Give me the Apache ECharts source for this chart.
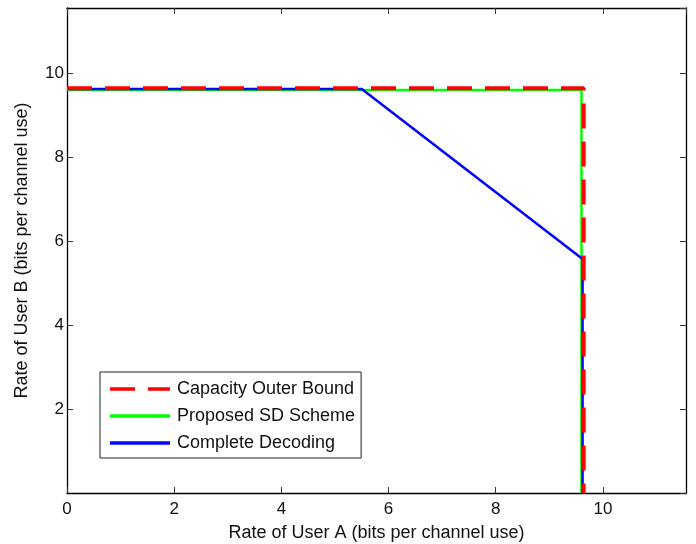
<!DOCTYPE html>
<html>
<head>
<meta charset="utf-8">
<script src="https://cdn.jsdelivr.net/npm/echarts@6/dist/echarts.min.js"></script>
<style>html,body{margin:0;padding:0;background:#fff}#c{width:696px;height:544px}</style>
</head>
<body>
<div id="c"></div>
<script>
const seriesNames = ['Capacity Outer Bound', 'Proposed SD Scheme', 'Complete Decoding'];
const capacityX = [0, 9.64, 9.64];
const capacityY = [9.64, 9.64, 0];
const proposedX = [0, 9.6, 9.6];
const proposedY = [9.6, 9.6, 0];
const completeX = [0, 5.5, 9.62, 9.62];
const completeY = [9.62, 9.62, 5.57, 0];
const tickValues = [0, 2, 4, 6, 8, 10];
const axisMax = 11.55;

const zip = (xs, ys) => xs.map((x, i) => [x, ys[i]]);
const font = "'Liberation Sans', Arial, sans-serif";
const chart = echarts.init(document.getElementById('c'));

function axis(pos, showLabels, name) {
  const a = {
    type: 'value', min: 0, max: axisMax, interval: 2, position: pos,
    axisLine: { show: true, onZero: false, lineStyle: { color: '#000', width: 1.3 } },
    axisTick: { show: true, inside: true, length: 6, lineStyle: { color: '#333', width: 1 } },
    axisLabel: { show: showLabels, color: '#111', fontSize: 17, fontFamily: font, showMaxLabel: false, margin: 8 },
    splitLine: { show: false }
  };
  if (name) {
    a.name = name;
    a.nameLocation = 'middle';
    a.nameTextStyle = { color: '#111', fontSize: 18, fontFamily: font };
  }
  return a;
}

const xA = axis('bottom', true, 'Rate of User A (bits per channel use)');
xA.nameGap = 31;
const xTop = axis('top', false);
const yL = axis('left', true, 'Rate of User B (bits per channel use)');
yL.nameGap = 36;
yL.axisLabel.showMinLabel = false;
yL.axisLabel.margin = 3;
const yR = axis('right', false);

const dashIcon = 'path://M0,0H25V3.5H0Z M38,0H60V3.5H38Z';
const solidIcon = 'path://M0,0H60V3.5H0Z';

chart.setOption({
  animation: false,
  backgroundColor: '#fff',
  grid: { left: 67, right: 10, top: 8, bottom: 51, containLabel: false, outerBoundsMode: 'none' },
  xAxis: [xA, xTop],
  yAxis: [yL, yR],
  legend: {
    orient: 'vertical', left: 100, top: 372,
    data: [
      { name: seriesNames[0], icon: dashIcon },
      { name: seriesNames[1], icon: solidIcon },
      { name: seriesNames[2], icon: solidIcon }
    ],
    itemWidth: 60, itemHeight: 3.5, itemGap: 9,
    backgroundColor: '#fff', borderColor: '#222', borderWidth: 1,
    borderRadius: 0, padding: [8, 6, 6, 10],
    textStyle: { color: '#111', fontSize: 18, fontFamily: font, padding: [0, 0, 0, 2] }
  },
  series: [
    { name: seriesNames[0], type: 'line', data: zip(capacityX, capacityY), symbol: 'none', z: 5,
      lineStyle: { color: '#ff0000', width: 4, type: [25, 13] }, itemStyle: { color: '#ff0000' } },
    { name: seriesNames[1], type: 'line', data: zip(proposedX, proposedY), symbol: 'none', z: 3,
      lineStyle: { color: '#00ff00', width: 2.5 }, itemStyle: { color: '#00ff00' } },
    { name: seriesNames[2], type: 'line', data: zip(completeX, completeY), symbol: 'none', z: 4,
      lineStyle: { color: '#0000ff', width: 2.5 }, itemStyle: { color: '#0000ff' } }
  ]
});
</script>
</body>
</html>
